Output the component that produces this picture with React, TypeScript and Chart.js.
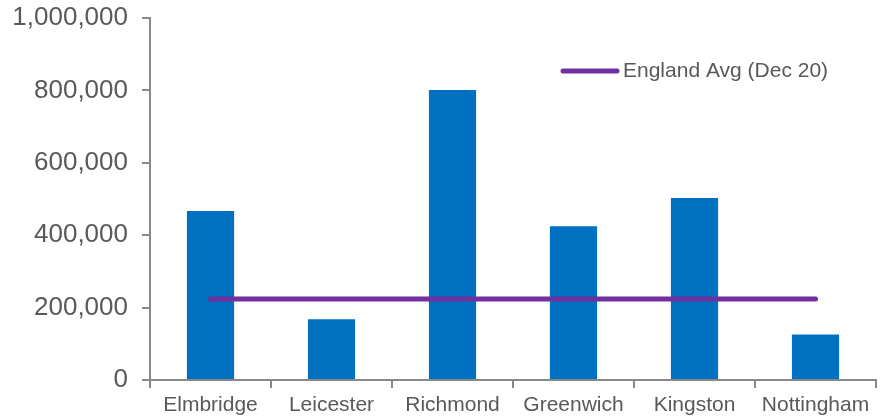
import React, { useEffect, useRef } from "react";
import { Chart, registerables } from "chart.js";

Chart.register(...registerables);

const categories = ["Elmbridge", "Leicester", "Richmond", "Greenwich", "Kingston", "Nottingham"];
const values = [467000, 168000, 801000, 425000, 503000, 126000];
const englandAvg = 224000;
const avgValues = categories.map(() => englandAvg);
const legendLabel = "England Avg (Dec 20)";
const yTicks = [0, 200000, 400000, 600000, 800000, 1000000];

const FONT = "'Liberation Sans', Arial, sans-serif";
const TEXT = "#595959";
const AXIS = "#898989";
const BLUE = "#0070C0";
const PURPLE = "#7030A0";

const legendPlugin = {
  id: "customLegend",
  afterDraw(chart: any) {
    const ctx = chart.ctx;
    ctx.save();
    ctx.strokeStyle = PURPLE;
    ctx.lineWidth = 5;
    ctx.lineCap = "round";
    ctx.beginPath();
    ctx.moveTo(563, 71);
    ctx.lineTo(617, 71);
    ctx.stroke();
    ctx.fillStyle = TEXT;
    ctx.font = `21px ${FONT}`;
    ctx.textBaseline = "middle";
    ctx.textAlign = "left";
    ctx.fillText(legendLabel, 623, 71);
    ctx.restore();
  },
};

export default function App() {
  const ref = useRef<HTMLCanvasElement | null>(null);
  useEffect(() => {
    if (!ref.current) return;
    const chart = new Chart(ref.current, {
      type: "bar",
      data: {
        labels: categories,
        datasets: [
          {
            type: "line",
            label: legendLabel,
            data: avgValues,
            borderColor: PURPLE,
            backgroundColor: PURPLE,
            borderWidth: 5,
            borderCapStyle: "round",
            pointRadius: 0,
            order: 0,
          } as any,
          {
            type: "bar",
            label: "Value",
            data: values,
            backgroundColor: BLUE,
            borderWidth: 0,
            categoryPercentage: 1,
            barPercentage: 0.39,
            order: 1,
          },
        ],
      },
      options: {
        animation: false,
        responsive: false,
        layout: { padding: { top: 18, right: 7, left: 0, bottom: 0 } },
        plugins: { legend: { display: false }, tooltip: { enabled: false } },
        scales: {
          x: {
            grid: {
              display: true,
              drawOnChartArea: false,
              drawTicks: true,
              tickLength: 8,
              offset: true,
              color: AXIS,
              lineWidth: 2,
            },
            border: { display: true, color: AXIS, width: 2 },
            ticks: {
              color: TEXT,
              font: { family: FONT, size: 21 },
              padding: 5,
              maxRotation: 0,
              autoSkip: false,
            },
            afterFit(scale: any) {
              scale.height = 39;
            },
          },
          y: {
            min: 0,
            max: 1000000,
            afterBuildTicks(scale: any) {
              scale.ticks = yTicks.map((v) => ({ value: v }));
            },
            grid: {
              display: true,
              drawOnChartArea: false,
              drawTicks: true,
              tickLength: 8,
              color: AXIS,
              lineWidth: 2,
            },
            border: { display: true, color: AXIS, width: 2 },
            ticks: {
              color: TEXT,
              font: { family: FONT, size: 26 },
              padding: 14,
              callback: (v: any) => Number(v).toLocaleString("en-GB"),
            },
            afterFit(scale: any) {
              scale.width = 150;
              scale.paddingTop = 0;
              scale.paddingBottom = 0;
            },
          },
        },
      },
      plugins: [legendPlugin],
    });
    return () => chart.destroy();
  }, []);
  return (
    <div style={{ position: "fixed", left: 0, top: 0, width: 883, height: 419, background: "#fff" }}>
      <canvas ref={ref} width={883} height={419} style={{ display: "block" }} />
    </div>
  );
}
